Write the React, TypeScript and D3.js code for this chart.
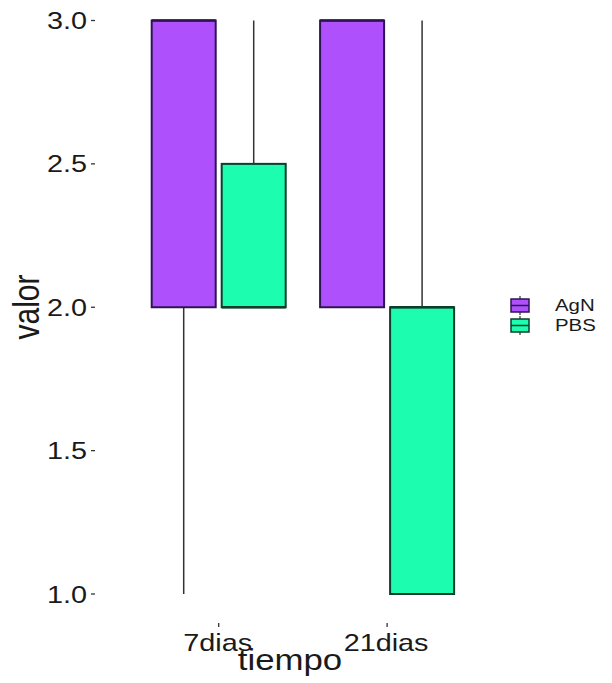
import React from "react";
import * as d3 from "d3";

// Box summaries per time point and treatment
const categories = ["7dias", "21dias"];
const series = ["AgN", "PBS"];
const lowerWhisker = [[1, 2], [2, 1]];
const lowerHinge = [[2, 2], [2, 1]];
const medians = [[3, 2], [3, 2]];
const upperHinge = [[3, 2.5], [3, 2]];
const upperWhisker = [[3, 3], [3, 3]];
const yTicks = [1.0, 1.5, 2.0, 2.5, 3.0];

const fills = ["#AE51FD", "#1CFDB0"];
const borders = ["#2E1452", "#0C3E2B"];
const textColor = "#1a1a1a";
const FONT = "'Liberation Sans', Arial, sans-serif";
const SX = 1.2; // horizontal text stretch

export default function App() {
  const W = 612;
  const H = 683;

  const y = d3.scaleLinear().domain([1, 3]).range([594, 20.5]);
  const x = d3.scaleBand().domain(categories).range([134.5, 471.3]).padding(0);
  const dodge = d3.scalePoint().domain(series).range([-35, 35]);
  const boxW = 64;

  const boxes: React.ReactNode[] = [];
  categories.forEach((c, ci) => {
    series.forEach((s, si) => {
      const cx = (x(c) as number) + x.bandwidth() / 2 + (dodge(s) as number);
      const lo = lowerWhisker[ci][si];
      const q1 = lowerHinge[ci][si];
      const md = medians[ci][si];
      const q3 = upperHinge[ci][si];
      const hi = upperWhisker[ci][si];
      boxes.push(
        <g key={`${c}-${s}`}>
          {hi > q3 && (
            <line x1={cx} x2={cx} y1={y(q3)} y2={y(hi)} stroke="#333" strokeWidth={1.5} />
          )}
          {lo < q1 && (
            <line x1={cx} x2={cx} y1={y(q1)} y2={y(lo)} stroke="#333" strokeWidth={1.5} />
          )}
          <rect
            x={cx - boxW / 2}
            y={y(q3)}
            width={boxW}
            height={y(q1) - y(q3)}
            fill={fills[si]}
            stroke={borders[si]}
            strokeWidth={2}
          />
          <line
            x1={cx - boxW / 2}
            x2={cx + boxW / 2}
            y1={y(md)}
            y2={y(md)}
            stroke={borders[si]}
            strokeWidth={2.5}
          />
        </g>
      );
    });
  });

  const stretched = (
    key: string,
    tx: number,
    ty: number,
    text: string,
    size: number,
    anchor: string,
    rotate = 0
  ) => (
    <text
      key={key}
      transform={`translate(${tx},${ty}) scale(${SX},1)${rotate ? ` rotate(${rotate})` : ""}`}
      fontFamily={FONT}
      fontSize={size}
      fill={textColor}
      textAnchor={anchor}
    >
      {text}
    </text>
  );

  return (
    <svg width={W} height={H} style={{ display: "block", position: "absolute", left: 0, top: 0 }}>
      <rect width={W} height={H} fill="#fff" />
      {/* y axis ticks and labels */}
      {yTicks.map((t) => (
        <g key={t}>
          <line x1={91} x2={95} y1={y(t)} y2={y(t)} stroke="#333" strokeWidth={1.3} />
          {stretched(`yl${t}`, 87, y(t) + 8.5, t.toFixed(1), 24, "end")}
        </g>
      ))}
      {/* x axis ticks and labels */}
      {categories.map((c) => {
        const cx = (x(c) as number) + x.bandwidth() / 2;
        return (
          <g key={c}>
            <line x1={cx} x2={cx} y1={623} y2={627} stroke="#333" strokeWidth={1.3} />
            {stretched(`xl${c}`, cx - 1, 651, c, 24, "middle")}
          </g>
        );
      })}
      {boxes}
      {/* axis titles */}
      {stretched("xt", 290, 670, "tiempo", 29, "middle")}
      {stretched("yt", 39, 307, "valor", 30, "middle", -90)}
      {/* legend */}
      {series.map((s, i) => {
        const ky = 299 + i * 20;
        return (
          <g key={s}>
            <line x1={520} x2={520} y1={ky - 3} y2={ky + 16} stroke="#333" strokeWidth={1.2} />
            <rect x={511} y={ky} width={18} height={13} fill={fills[i]} stroke={borders[i]} strokeWidth={1.5} />
            <line x1={511} x2={529} y1={ky + 6.5} y2={ky + 6.5} stroke={borders[i]} strokeWidth={1.5} />
            {stretched(`lg${s}`, 555, ky + 12, s, 17, "start")}
          </g>
        );
      })}
    </svg>
  );
}
